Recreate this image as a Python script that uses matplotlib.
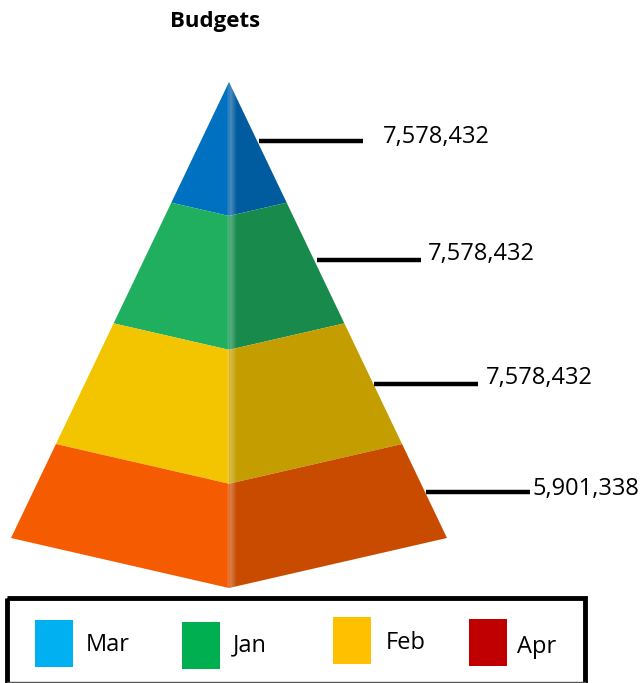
from matplotlib import pyplot as plt
from matplotlib.patches import Polygon, Rectangle
import numpy as np

plt.rcParams['font.family'] = ['Open Sans', 'DejaVu Sans']

categories = ['Mar', 'Jan', 'Feb', 'Apr']
values = [7578432, 7578432, 7578432, 5901338]
front_colors = ['#0070C0', '#1FAF5F', '#F2C500', '#F55B00']
side_colors = ['#005C9E', '#178A4C', '#C49E00', '#C84B00']
legend_colors = ['#00B0F0', '#00B050', '#FFC000', '#C00000']

fig = plt.figure(figsize=(6.42, 6.83), dpi=100)
# axes in pixels, same as the picture
ax = fig.add_axes([0, 0, 1, 1])
ax.set_xlim(0, 642)
ax.set_ylim(683, 0)
ax.axis('off')

# pyramid geometry, band height is proportional to the value
cx, apex_y = 229, 82
half_w, edge_h, centre_h = 218, 456, 506
total = sum(values)
fracs = np.cumsum([0] + values) / total

# white strip on the front edge
strip = np.zeros((1, 40, 4))
strip[0, :, :3] = 1
strip[0, :, 3] = np.interp(np.arange(40), [0, 14, 39], [0.05, 0.3, 0])

line_dy = [-1, -3, 0, 1]
label_dx = [20, 7, 8, 3]
label_dy = [-4, -6, -6, -3]
for i in range(len(values)):
    f0, f1 = fracs[i], fracs[i + 1]
    left = [(cx - half_w * f0, apex_y + edge_h * f0), (cx, apex_y + centre_h * f0),
            (cx, apex_y + centre_h * f1), (cx - half_w * f1, apex_y + edge_h * f1)]
    right = [(cx + half_w * f0, apex_y + edge_h * f0), (cx, apex_y + centre_h * f0),
             (cx, apex_y + centre_h * f1), (cx + half_w * f1, apex_y + edge_h * f1)]
    ax.add_patch(Polygon(left, closed=True, fc=front_colors[i], ec='none'))
    ax.add_patch(Polygon(right, closed=True, fc=side_colors[i], ec='none'))

    clip = Polygon([left[0], left[1], right[1], right[0], right[3], right[2], left[3]], closed=True,
                   transform=ax.transData)
    im = ax.imshow(strip, extent=(cx - 2, cx + 8, 683, 0), aspect='auto', interpolation='bilinear', zorder=3)
    im.set_clip_path(clip)

    # leader line from the middle of the right edge
    fm = (f0 + f1) / 2
    x0 = cx + half_w * fm
    y0 = apex_y + edge_h * fm + line_dy[i]
    ax.plot([x0 + 1, x0 + 105], [y0, y0], color='black', lw=3.2, solid_capstyle='butt', zorder=4)
    ax.text(x0 + 105 + label_dx[i], y0 + label_dy[i], '{:,}'.format(values[i]), fontsize=17,
            va='center', ha='left', color='black')

ax.set_xlim(0, 642)
ax.set_ylim(683, 0)

ax.text(215, 21, 'Budgets', fontsize=16, fontweight='bold', ha='center', va='center', color='black')

# legend box and swatches, spacing is uneven in the original
ax.add_patch(Rectangle((7, 598), 578, 87, fc='none', ec='black', lw=3.5, zorder=5))
ax.plot([7, 585], [682, 682], color='#555555', lw=1, zorder=5)
swatch_x = [35, 182, 333, 469]
swatch_y = [620, 622, 617, 619]
text_x = [86, 233, 386, 517]
text_y = [645, 645, 643, 647]
for i, c in enumerate(categories):
    ax.add_patch(Rectangle((swatch_x[i], swatch_y[i]), 38, 47, fc=legend_colors[i], ec='none'))
    ax.text(text_x[i], text_y[i], c, fontsize=17, va='center', ha='left', color='black')

plt.savefig('out.png', dpi=100)
